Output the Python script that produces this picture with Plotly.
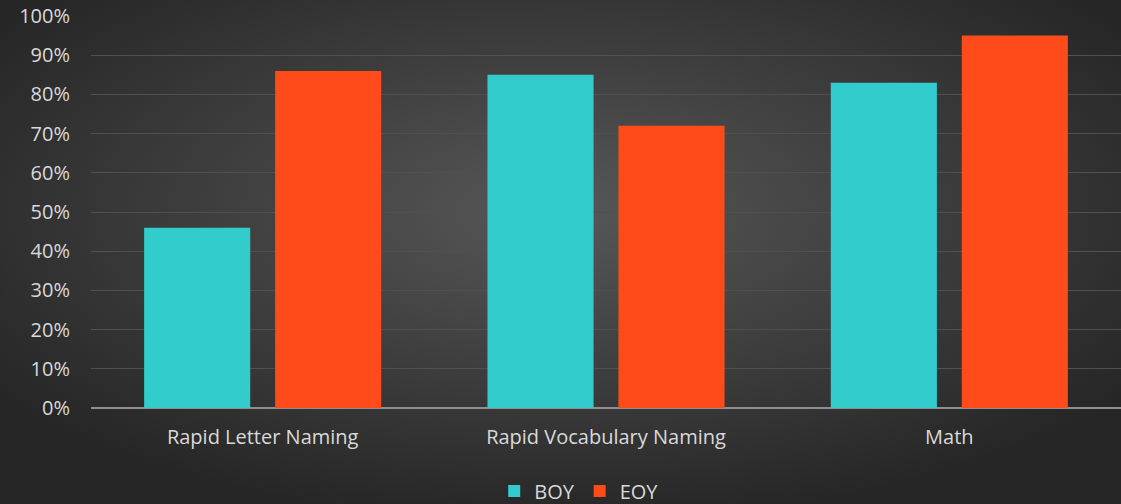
import base64
import plotly.graph_objects as go

categories = ["Rapid Letter Naming", "Rapid Vocabulary Naming", "Math"]
boy = [0.46, 0.85, 0.83]
eoy = [0.86, 0.72, 0.95]
tick_vals = [0, 0.1, 0.2, 0.3, 0.4, 0.5, 0.6, 0.7, 0.8, 0.9, 1.0]
tick_text = ["0%", "10%", "20%", "30%", "40%", "50%", "60%", "70%", "80%", "90%", "100%"]

W, H = 1121, 504
ML, MR, MT, MB = 91, 0, 16, 96
pw, ph = W - ML - MR, H - MT - MB

svg = f'''<svg xmlns="http://www.w3.org/2000/svg" width="{W}" height="{H}" viewBox="0 0 {W} {H}" preserveAspectRatio="none">
<defs><radialGradient id="g" cx="0.5" cy="0.42" r="0.62" gradientUnits="objectBoundingBox">
<stop offset="0" stop-color="#575757"/><stop offset="1" stop-color="#262626"/></radialGradient></defs>
<rect width="{W}" height="{H}" fill="url(#g)"/></svg>'''
uri = "data:image/svg+xml;base64," + base64.b64encode(svg.encode()).decode()

font = dict(family="Open Sans, Noto Sans, sans-serif", color="#d9d9d9")

fig = go.Figure()
fig.add_trace(go.Bar(name="BOY", x=categories, y=boy, marker=dict(color="#33cccc", line=dict(width=0))))
fig.add_trace(go.Bar(name="EOY", x=categories, y=eoy, marker=dict(color="#ff4b1a", line=dict(width=0))))

fig.update_layout(
    width=W, height=H,
    margin=dict(l=ML, r=MR, t=MT, b=MB, autoexpand=False),
    paper_bgcolor="#2e2e2e",
    plot_bgcolor="rgba(0,0,0,0)",
    barmode="group", bargap=0.237, bargroupgap=0.19,
    font=dict(size=20, **font),
    showlegend=True,
    legend=dict(orientation="h", x=0.474, xanchor="center", y=-0.212, yanchor="middle",
                font=dict(size=20, **font), bgcolor="rgba(0,0,0,0)",
                traceorder="normal"),
    images=[dict(source=uri, xref="paper", yref="paper",
                 x=-ML / pw, y=1 + MT / ph, sizex=W / pw, sizey=H / ph,
                 xanchor="left", yanchor="top", sizing="stretch", layer="below")],
)
fig.update_xaxes(showgrid=False, tickfont=dict(size=20, **font), ticks="", showline=False,
                 ticklabelstandoff=15)
fig.update_yaxes(range=[0, 1.0], tickvals=tick_vals, ticktext=tick_text,
                 showgrid=True, gridcolor="#505050", gridwidth=1,
                 zeroline=True, zerolinecolor="#8f8f8f", zerolinewidth=2,
                 tickfont=dict(size=20, **font), ticks="", ticklabelstandoff=20)

fig.write_html("out.html", config={"displayModeBar": False},
               post_script="document.body.style.margin='0';document.body.style.background='#2e2e2e';")
